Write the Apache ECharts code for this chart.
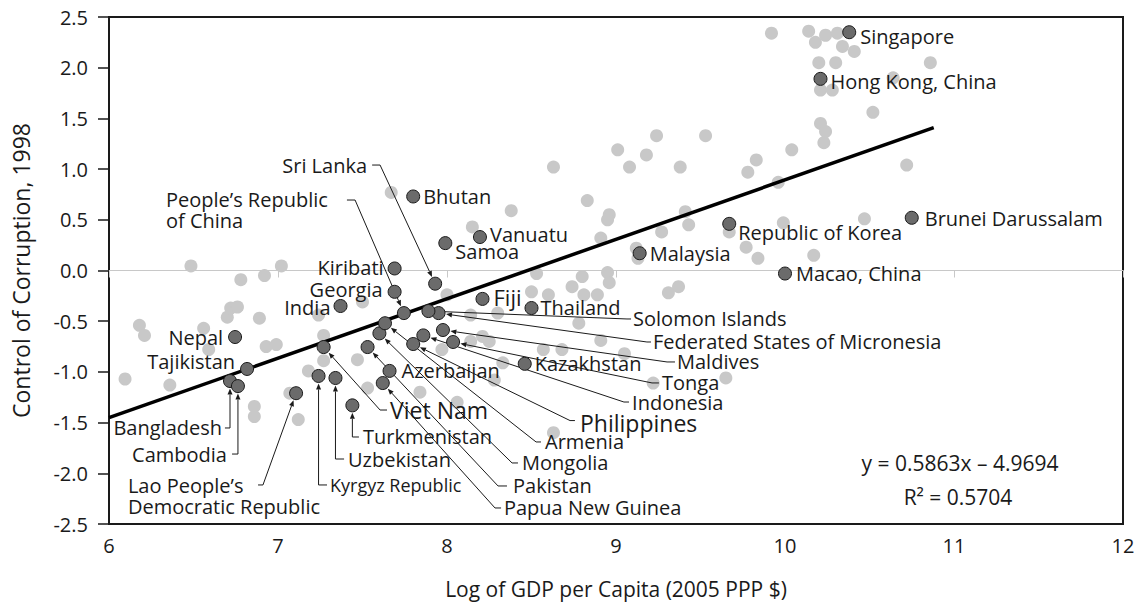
<!DOCTYPE html>
<html lang="en">
<head>
<meta charset="utf-8">
<script src="https://cdn.jsdelivr.net/npm/echarts@6/dist/echarts.min.js"></script>
</head>
<body style="margin:0">
<div id="main" style="width:1135px;height:606px"></div>
<script>
// all other economies, [log GDP per capita, control of corruption]
const otherEconomies = [
  [6.485, 0.045], [6.78, -0.09], [6.92, -0.05], [7.02, 0.045],
  [6.095, -1.07], [6.18, -0.54], [6.21, -0.64], [6.36, -1.13], [6.56, -0.57], [6.59, -0.78],
  [6.70, -0.46], [6.72, -0.37], [6.76, -0.36], [6.89, -0.47], [6.93, -0.75], [6.99, -0.73],
  [6.86, -1.34], [6.86, -1.44], [7.07, -1.21], [7.12, -1.47], [7.18, -0.99], [7.27, -0.64],
  [7.27, -0.89], [7.47, -0.88], [7.53, -1.16], [7.50, -0.31], [7.24, -0.44],
  [7.67, 0.77], [8.38, 0.59], [8.15, 0.43], [8.63, 1.02], [8.83, 0.69], [8.96, 0.55],
  [8.95, 0.50], [9.01, 1.19], [9.08, 1.02], [9.18, 1.14], [9.24, 1.33], [9.38, 1.02],
  [9.53, 1.33], [8.91, 0.32], [9.27, 0.38], [9.41, 0.58], [9.43, 0.45], [9.12, 0.22],
  [9.13, 0.12], [9.78, 0.97], [9.83, 1.09], [9.77, 0.23], [9.84, 0.12], [9.67, 0.38],
  [8.53, -0.03], [8.74, -0.16], [8.80, -0.06], [8.95, -0.02], [8.96, -0.12], [9.37, -0.16],
  [9.31, -0.22], [8.50, -0.21], [8.60, -0.24], [8.89, -0.24], [8.00, -0.24], [8.81, -0.24],
  [8.14, -0.44], [8.30, -0.42], [8.78, -0.52], [8.91, -0.69], [9.05, -0.82], [8.57, -0.78],
  [8.68, -0.78], [8.21, -0.65], [8.25, -0.70], [8.14, -0.70], [7.97, -0.78], [8.33, -0.91],
  [8.28, -1.08], [7.84, -1.20], [8.06, -1.30], [8.63, -1.60], [9.22, -1.11], [9.65, -1.06],
  [9.92, 2.34], [10.14, 2.36], [10.18, 2.25], [10.24, 2.32], [10.31, 2.34], [10.34, 2.21],
  [10.41, 2.16], [10.20, 2.05], [10.30, 2.05], [10.86, 2.05], [10.64, 1.90], [10.21, 1.78],
  [10.28, 1.78], [10.52, 1.56], [10.21, 1.45], [10.24, 1.37], [10.23, 1.26], [10.04, 1.19],
  [10.72, 1.04], [9.96, 0.87], [9.99, 0.47], [10.47, 0.51], [10.17, 0.15]
];

// named economies
const namedCountries = [
  'Singapore', 'Hong Kong, China', 'Brunei Darussalam', 'Macao, China', 'Republic of Korea',
  'Malaysia', 'Vanuatu', 'Samoa', 'Bhutan', 'Fiji', 'Thailand', 'Kazakhstan', 'Azerbaijan',
  'Nepal', 'Tajikistan', 'India', 'Georgia', 'Kiribati', 'Sri Lanka',
  "People's Republic of China", 'Bangladesh', 'Cambodia', "Lao People's Democratic Republic",
  'Kyrgyz Republic', 'Uzbekistan', 'Turkmenistan', 'Viet Nam', 'Pakistan', 'Papua New Guinea',
  'Mongolia', 'Armenia', 'Philippines', 'Indonesia', 'Tonga', 'Maldives',
  'Federated States of Micronesia', 'Solomon Islands'
];
const namedGdp = [
  10.38, 10.21, 10.75, 10.00, 9.67,
  9.14, 8.195, 7.99, 7.80, 8.21, 8.50, 8.46, 7.66,
  6.746, 6.817, 7.37, 7.69, 7.69, 7.93,
  7.745, 6.716, 6.763, 7.107,
  7.24, 7.34, 7.44, 7.27, 7.53, 7.62,
  7.60, 7.633, 7.80, 7.86, 8.036, 7.976,
  7.95, 7.89
];
const namedCorruption = [
  2.35, 1.89, 0.52, -0.03, 0.46,
  0.17, 0.33, 0.27, 0.73, -0.28, -0.37, -0.92, -0.99,
  -0.656, -0.971, -0.35, -0.21, 0.02, -0.13,
  -0.42, -1.09, -1.14, -1.21,
  -1.04, -1.06, -1.33, -0.755, -0.755, -1.11,
  -0.62, -0.52, -0.725, -0.64, -0.705, -0.587,
  -0.42, -0.40
];

// fitted line
const trendSlope = 0.5863;
const trendIntercept = -4.9694;
const trendFrom = 6;
const trendTo = 10.88;

// where the names go: off = pixel offset beside the dot, at/lead = axis units
const labelLayout = {
  'Singapore': { off: [11, 4] },
  'Hong Kong, China': { off: [10, 3] },
  'Brunei Darussalam': { off: [13, 1] },
  'Macao, China': { off: [11, 0] },
  'Republic of Korea': { off: [9, 9] },
  'Malaysia': { off: [10, 0] },
  'Vanuatu': { off: [10, -3] },
  'Samoa': { off: [10, 8] },
  'Bhutan': { off: [10, 0] },
  'Fiji': { off: [11, -2], size: 22 },
  'Thailand': { off: [9, -1] },
  'Kazakhstan': { off: [10, 0] },
  'Azerbaijan': { off: [12, 0] },
  'Nepal': { off: [-12, 0] },
  'Tajikistan': { off: [-12, -7] },
  'India': { off: [-10, 2] },
  'Georgia': { off: [-12, -2] },
  'Kiribati': { off: [-11, -1] },
  'Sri Lanka': { at: [7.527, 1.040], align: 'right', lead: [[7.557, 1.040], [7.604, 1.040]] },
  "People's Republic of China": { text: 'People’s Republic\nof China', at: [6.337, 0.597],
    lead: [[7.408, 0.695], [7.456, 0.695]] },
  'Bangladesh': { at: [6.669, -1.553], align: 'right', lead: [[6.686, -1.553]] },
  'Cambodia': { at: [6.698, -1.810], align: 'right', lead: [[6.728, -1.810]] },
  "Lao People's Democratic Republic": { text: 'Lao People’s\nDemocratic Republic', at: [6.112, -2.224],
    lead: [[6.882, -2.115], [6.911, -2.115]] },
  'Kyrgyz Republic': { at: [7.308, -2.115], size: 18, lead: [[7.290, -2.115]] },
  'Uzbekistan': { at: [7.414, -1.859], lead: [[7.391, -1.859]] },
  'Turkmenistan': { at: [7.503, -1.642], lead: [[7.479, -1.642]] },
  'Viet Nam': { at: [7.663, -1.376], size: 23, lead: [[7.645, -1.376], [7.604, -1.376]] },
  'Pakistan': { at: [8.391, -2.125], lead: [[8.355, -2.125], [8.302, -2.125]] },
  'Papua New Guinea': { at: [8.337, -2.342], lead: [[8.320, -2.342], [8.284, -2.342]] },
  'Mongolia': { at: [8.444, -1.898], lead: [[8.420, -1.898], [8.385, -1.898]] },
  'Armenia': { at: [8.580, -1.691], lead: [[8.556, -1.691], [8.527, -1.691]] },
  'Philippines': { at: [8.787, -1.504], size: 23, lead: [[8.757, -1.48], [8.728, -1.48]] },
  'Indonesia': { at: [9.095, -1.297], lead: [[9.077, -1.297], [9.047, -1.297]] },
  'Tonga': { at: [9.272, -1.109], lead: [[9.254, -1.109], [9.213, -1.109]] },
  'Maldives': { at: [9.361, -0.902], lead: [[9.349, -0.902], [9.302, -0.902]] },
  'Federated States of Micronesia': { at: [9.219, -0.705], lead: [[9.207, -0.705], [9.183, -0.705]] },
  'Solomon Islands': { at: [9.101, -0.478], lead: [[9.089, -0.478], [9.065, -0.478]] }
};

const FONT = "'Open Sans', 'Noto Sans', sans-serif";
const INK = '#1a1a1a';

var chart = echarts.init(document.getElementById('main'), null, { renderer: 'svg' });

const namedData = namedCountries.map(function (n, i) {
  return [namedGdp[i], namedCorruption[i], i];
});

var option = {
  animation: false,
  grid: {
    left: 109, right: 12, top: 17, bottom: 82,
    show: true, borderColor: INK, borderWidth: 2,
    containLabel: false, outerBoundsMode: 'none'
  },
  xAxis: [
    {
      type: 'value', min: 6, max: 12, interval: 1,
      name: 'Log of GDP per Capita (2005 PPP $)',
      nameLocation: 'middle', nameGap: 54,
      nameTextStyle: { fontFamily: FONT, fontSize: 21, color: INK },
      axisLine: { onZero: false, lineStyle: { color: INK, width: 2 } },
      axisTick: { show: false },
      axisLabel: { fontFamily: FONT, fontSize: 20, color: INK, margin: 11 },
      splitLine: { show: false }
    },
    {
      type: 'value', min: 6, max: 12, interval: 1, position: 'bottom',
      axisLine: { onZero: true, lineStyle: { color: '#c8c8c8', width: 1 } },
      axisTick: { show: true, length: 7, lineStyle: { color: '#c8c8c8' } },
      axisLabel: { show: false },
      splitLine: { show: false }
    }
  ],
  yAxis: {
    type: 'value', min: -2.5, max: 2.5, interval: 0.5,
    name: 'Control of Corruption, 1998',
    nameLocation: 'middle', nameGap: 77,
    nameTextStyle: { fontFamily: FONT, fontSize: 23, color: INK },
    axisLine: { show: true, lineStyle: { color: INK, width: 2 } },
    axisTick: { show: true, length: 11, lineStyle: { color: INK, width: 1.5 } },
    axisLabel: {
      fontFamily: FONT, fontSize: 20, color: INK, margin: 21,
      formatter: function (v) { return v.toFixed(1); }
    },
    splitLine: { show: false }
  },
  graphic: [
    { type: 'text', x: 960, y: 463, z: 100,
      style: { text: 'y = 0.5863x – 4.9694', font: '21px ' + FONT, fill: INK, align: 'center', verticalAlign: 'middle' } },
    { type: 'text', x: 958, y: 497, z: 100,
      style: { text: 'R² = 0.5704', font: '21px ' + FONT, fill: INK, align: 'center', verticalAlign: 'middle' } }
  ],
  series: [
    {
      type: 'scatter', silent: true, z: 2,
      symbolSize: 13,
      itemStyle: { color: '#c8c8c8', opacity: 1 },
      data: otherEconomies
    },
    {
      type: 'line', silent: true, z: 3,
      symbol: 'none',
      lineStyle: { color: '#000', width: 3.5 },
      data: [trendFrom, trendTo].map(function (x) { return [x, trendSlope * x + trendIntercept]; })
    },
    {
      type: 'custom', silent: true, z: 4,
      encode: { x: 0, y: 1 },
      data: namedData,
      renderItem: function (params, api) {
        const i = api.value(2);
        const name = namedCountries[i];
        const lay = labelLayout[name];
        const pt = api.coord([api.value(0), api.value(1)]);
        const children = [];
        let tx, ty, align;
        if (lay.off) {
          tx = pt[0] + lay.off[0];
          ty = pt[1] + lay.off[1];
          align = lay.off[0] < 0 ? 'right' : 'left';
        } else {
          const a = api.coord(lay.at);
          tx = a[0]; ty = a[1];
          align = lay.align || 'left';
          const s = api.coord(lay.lead[0]);
          const e = lay.lead[1] ? api.coord(lay.lead[1]) : [pt[0], s[1]];
          const dx = pt[0] - e[0], dy = pt[1] - e[1];
          const len = Math.sqrt(dx * dx + dy * dy);
          const ux = dx / len, uy = dy / len;
          const tip = [pt[0] - ux * 7.5, pt[1] - uy * 7.5];
          const base = [tip[0] - ux * 6, tip[1] - uy * 6];
          children.push({
            type: 'polyline',
            shape: { points: [s, e, base] },
            style: { stroke: INK, lineWidth: 1, fill: null }
          });
          children.push({
            type: 'polygon',
            shape: { points: [tip, [base[0] - uy * 2.5, base[1] + ux * 2.5], [base[0] + uy * 2.5, base[1] - ux * 2.5]] },
            style: { fill: INK }
          });
        }
        children.push({
          type: 'text',
          style: {
            x: tx, y: ty,
            text: lay.text || name,
            font: (lay.size || 20) + 'px ' + FONT,
            fill: INK, align: align, verticalAlign: 'middle', lineHeight: 21
          }
        });
        return { type: 'group', children: children };
      }
    },
    {
      type: 'scatter', silent: true, z: 5,
      symbolSize: 13,
      itemStyle: { color: '#6b6b6b', borderColor: INK, borderWidth: 1, opacity: 1 },
      data: namedData
    }
  ]
};

chart.setOption(option);
window.addEventListener('resize', chart.resize);
</script>
</body>
</html>
